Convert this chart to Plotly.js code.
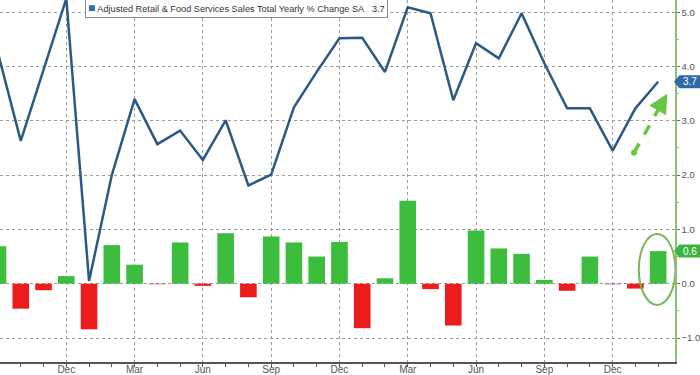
<!DOCTYPE html>
<html>
<head>
<meta charset="utf-8">
<script src="https://cdn.plot.ly/plotly-3.0.1.min.js"></script>
<style>html,body{margin:0;padding:0;background:#fff;}#chart{width:700px;height:375px;}</style>
</head>
<body>
<div id="chart"></div>
<script>
// Month labels (Sep .. Feb, 30 monthly observations)
const months = ["Sep","Oct","Nov","Dec","Jan","Feb","Mar","Apr","May","Jun","Jul","Aug",
                "Sep","Oct","Nov","Dec","Jan","Feb","Mar","Apr","May","Jun","Jul","Aug",
                "Sep","Oct","Nov","Dec","Jan","Feb"];
// Adjusted Retail & Food Services Sales, Total Yearly % Change SA (line)
const yoy = [4.25, 2.63, 3.94, 5.25, 0.05, 2.00, 3.40, 2.57, 2.82, 2.28, 3.01, 1.81,
             2.01, 3.25, 3.90, 4.52, 4.53, 3.90, 5.09, 4.98, 3.38, 4.43, 4.15, 4.98,
             4.06, 3.23, 3.23, 2.45, 3.23, 3.72];
// Monthly % change (bars)
const mom = [0.69, -0.46, -0.12, 0.14, -0.84, 0.71, 0.35, -0.01, 0.76, -0.04, 0.93, -0.25,
             0.87, 0.76, 0.50, 0.77, -0.82, 0.10, 1.53, -0.10, -0.77, 0.98, 0.65, 0.55,
             0.07, -0.13, 0.50, -0.01, -0.09, 0.60];
const labelMonths = ["Dec","Mar","Jun","Sep"];
const legendText = "Adjusted Retail &amp; Food Services Sales Total Yearly % Change SA";

const idx = months.map((m, i) => i);
const tickvals = idx.filter(i => labelMonths.includes(months[i]));
const ticktext = tickvals.map(i => months[i]);
const yRange = [-1.442, 5.225];
const xRange = [0.088, 29.74];
const n = months.length;
const lastYoy = yoy[n - 1];
const lastMom = mom[n - 1];
const py = v => (v - yRange[0]) / (yRange[1] - yRange[0]);

const GREEN = '#3dbd3d', RED = '#ec1c1c', BLUE = '#2c5a85';
const FONT = 'Liberation Sans, Arial, sans-serif';

const traces = [
  {
    type: 'bar', x: idx, y: mom, width: 0.73,
    marker: {color: mom.map(v => v >= 0 ? GREEN : RED), line: {width: 0}},
    showlegend: false, hoverinfo: 'skip'
  },
  {
    type: 'scatter', mode: 'lines', x: idx, y: yoy,
    line: {color: BLUE, width: 2.5},
    showlegend: false, hoverinfo: 'skip', cliponaxis: true
  }
];

function tag(v, color) {
  const c = py(v), h = 6.5 / 362;
  return {
    type: 'path', xref: 'paper', yref: 'paper',
    path: `M 0.9985 ${c} L 1.0065 ${c + h} L 1.04 ${c + h} L 1.04 ${c - h} L 1.0065 ${c - h} Z`,
    fillcolor: color, line: {width: 0}, layer: 'above'
  };
}

// arrow geometry (data coords)
const a0 = {x: n - 1 - 1.06, y: 2.41};
const a1 = {x: n - 1 + 0.40, y: 3.50};

const layout = {
  width: 700, height: 375,
  margin: {l: 0, r: 25, t: 0, b: 13, pad: 0},
  paper_bgcolor: '#ffffff', plot_bgcolor: '#ffffff',
  showlegend: false,
  bargap: 0.27,
  font: {family: FONT, size: 10, color: '#444'},
  xaxis: {
    range: xRange, showline: true, linecolor: '#555', linewidth: 1.5,
    tickvals: tickvals, ticktext: ticktext,
    ticks: 'outside', ticklen: 3, tickcolor: '#555',
    ticklabelstandoff: -6,
    showgrid: true, gridcolor: '#9a9a9a', griddash: 'dot', gridwidth: 1,
    zeroline: false,
    minor: {dtick: 1, tick0: 0, ticks: 'outside', ticklen: 3, tickcolor: '#555', showgrid: false},
    tickfont: {family: FONT, size: 10, color: '#555'},
    fixedrange: true
  },
  yaxis: {
    side: 'right', range: yRange, dtick: 1, tick0: 0, tickformat: '.1f',
    showline: true, linecolor: '#86c472', linewidth: 1.5,
    ticks: 'outside', ticklen: 3, tickcolor: '#666',
    showgrid: true, gridcolor: '#9a9a9a', griddash: 'dot', gridwidth: 1,
    zeroline: false,
    minor: {dtick: 0.5, ticks: 'outside', ticklen: 2, tickcolor: '#86c472', showgrid: false},
    tickfont: {family: FONT, size: 9.6, color: '#555'},
    fixedrange: true
  },
  shapes: [
    // ellipse round the last bar
    {type: 'circle', xref: 'x', yref: 'y', x0: n - 1 - 0.85, x1: n - 1 + 0.76, y0: -0.39, y1: 0.915,
     line: {color: '#7ab55c', width: 2}, fillcolor: 'rgba(0,0,0,0)', layer: 'above'},
    // dashed arrow body
    {type: 'line', xref: 'x', yref: 'y', x0: a0.x, y0: a0.y, x1: a0.x + (a1.x - a0.x) * 0.84, y1: a0.y + (a1.y - a0.y) * 0.84,
     line: {color: '#69c544', width: 3.5, dash: 'dash'}, layer: 'above'},
    // dot at arrow start
    {type: 'circle', xref: 'x', yref: 'y', xsizemode: 'pixel', ysizemode: 'pixel',
     xanchor: a0.x, yanchor: a0.y, x0: -3, x1: 3, y0: -3, y1: 3,
     fillcolor: '#69c544', line: {width: 0}, layer: 'above'},
    tag(lastYoy, '#2f6aa8'),
    tag(lastMom, '#3cb33c')
  ],
  annotations: [
    {xref: 'x', yref: 'y', x: a1.x, y: a1.y, ax: -6, ay: 10.5, axref: 'pixel', ayref: 'pixel',
     showarrow: true, arrowhead: 2, arrowsize: 1.1, arrowwidth: 3.5, arrowcolor: '#69c544', text: ''},
    {xref: 'paper', yref: 'paper', x: 1.0225, y: py(lastYoy), xanchor: 'center', yanchor: 'middle',
     text: lastYoy.toFixed(1), showarrow: false, font: {family: FONT, size: 10, color: '#ffffff'}},
    {xref: 'paper', yref: 'paper', x: 1.0225, y: py(lastMom), xanchor: 'center', yanchor: 'middle',
     text: lastMom.toFixed(1), showarrow: false, font: {family: FONT, size: 10, color: '#ffffff'}},
    {xref: 'paper', yref: 'paper', x: 85 / 675, y: 1.006, xanchor: 'left', yanchor: 'top',
     text: '<span style="color:#2e6ca4;font-size:12px">■</span> ' + legendText + '&nbsp;&nbsp;&nbsp;' + lastYoy.toFixed(1),
     showarrow: false, bgcolor: '#ffffff', bordercolor: '#8a8a8a', borderwidth: 1, borderpad: 2,
     font: {family: FONT, size: 9.2, color: '#333'}}
  ]
};

Plotly.newPlot('chart', traces, layout, {staticPlot: true, displayModeBar: false});
</script>
</body>
</html>
